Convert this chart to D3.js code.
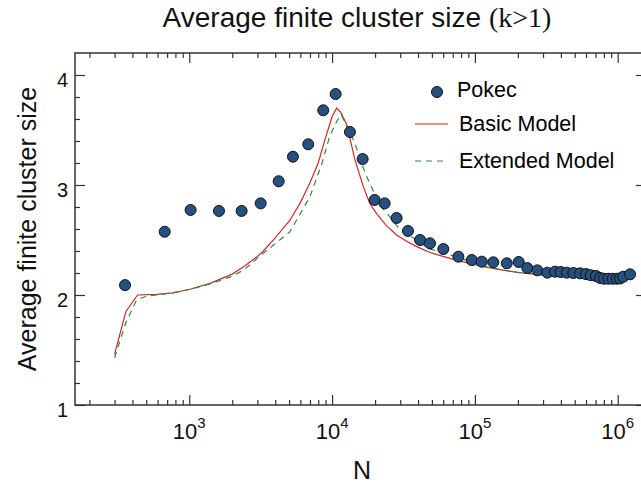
<!DOCTYPE html>
<html>
<head>
<meta charset="utf-8">
<script src="https://cdn.jsdelivr.net/npm/d3@7"></script>
<style>
  html, body { margin: 0; padding: 0; background: #fff; overflow: hidden; }
  svg { display: block; font-family: "Liberation Sans", Arial, Helvetica, sans-serif; }
</style>
</head>
<body>
<script>
// ---- data ----
const pokecN = [355, 673, 1022, 1615, 2326, 3162, 4227, 5321, 6810, 8670, 10590, 13340, 16370,
  19860, 23330, 28300, 34000, 41300, 48500, 60100, 76600, 95100, 111700, 134600, 167200, 202800,
  232900, 273600, 321400, 364000, 399000, 439500, 489000, 545000, 600000, 647000, 705000, 752000,
  802000, 860000, 922000, 984000, 1038000, 1094000, 1220000];
const pokecY = [2.09, 2.575, 2.773, 2.764, 2.764, 2.833, 3.034, 3.257, 3.37, 3.679, 3.827, 3.482, 3.236,
  2.864, 2.833, 2.70, 2.582, 2.50, 2.47, 2.418, 2.348, 2.318, 2.303, 2.297, 2.288, 2.30,
  2.245, 2.224, 2.203, 2.212, 2.209, 2.203, 2.20, 2.197, 2.19, 2.18, 2.173, 2.155,
  2.148, 2.148, 2.148, 2.148, 2.15, 2.166, 2.188];

const basicN = [300, 360, 435, 590, 770, 1000, 1400, 2000, 2400, 3000, 3300, 4000, 5070, 6000, 7000,
  8000, 8900, 10000, 10770, 11500, 12650, 14450, 16500, 18400, 20500, 24000, 28300, 33000, 39100,
  50000, 67000, 90000, 115000, 150000, 196000, 260000, 336000, 450000, 574000, 800000, 1066000];
const basicY = [1.46, 1.85, 2.0, 2.006, 2.02, 2.05, 2.106, 2.19, 2.257, 2.35, 2.40, 2.52, 2.68, 2.84, 3.02,
  3.2, 3.41, 3.62, 3.70, 3.66, 3.55, 3.23, 2.99, 2.83, 2.74, 2.63, 2.545, 2.49, 2.44,
  2.38, 2.333, 2.29, 2.257, 2.23, 2.206, 2.19, 2.175, 2.17, 2.167, 2.165, 2.167];

const extN = [300, 360, 428, 500, 590, 770, 1000, 1400, 2000, 2400, 3300, 5070, 7000, 8500, 9600, 10800,
  11600, 12500, 14450, 16000, 17500, 19500, 21500, 24300, 28800, 34000, 39100, 47000, 67000, 90000,
  115000, 150000, 196000, 260000, 336000, 450000, 574000, 800000, 1066000];
const extY = [1.43, 1.75, 1.955, 1.99, 2.0, 2.02, 2.05, 2.10, 2.17, 2.227, 2.379, 2.576, 2.894, 3.197, 3.44, 3.58,
  3.64, 3.55, 3.38, 3.2, 3.075, 2.94, 2.82, 2.74, 2.62, 2.55, 2.50, 2.424, 2.364, 2.31,
  2.262, 2.232, 2.208, 2.19, 2.175, 2.17, 2.167, 2.165, 2.167];

const yTickValues = [1, 2, 3, 4];
const xMajorExps = [3, 4, 5, 6];
const legendLabels = ["Pokec", "Basic Model", "Extended Model"];
const titleMain = "Average finite cluster size ";
const titleSuffix = "(k>1)";
const xTitle = "N";
const yTitle = "Average finite cluster size";

// ---- layout ----
const W = 641, H = 494;
const m = { left: 75, right: 646, top: 53, bottom: 405 };
const colDot = "#25507f", colRed = "#cc2a2a", colGreen = "#2a8c3f", colAxis = "#333";

const svg = d3.select("body").append("svg").attr("width", W).attr("height", H);

const x = d3.scaleLog().domain([Math.pow(10, 2.2), Math.pow(10, 6.198)]).range([m.left, m.right]);
const y = d3.scaleLinear().domain([1, 4.2]).range([m.bottom, m.top]);

const xMinor = [];
for (let e = 2; e <= 6; e++) for (let k = 2; k <= 9; k++) {
  const v = k * Math.pow(10, e);
  if (v >= x.domain()[0] && v <= x.domain()[1]) xMinor.push(v);
}
const xMajor = xMajorExps.map(e => Math.pow(10, e));
const yMinor = d3.range(1.2, 4.2, 0.2).filter(v => Math.abs(v - Math.round(v)) > 0.01);

const g = svg.append("g");

g.append("rect").attr("x", m.left).attr("y", m.top)
  .attr("width", m.right - m.left).attr("height", m.bottom - m.top)
  .attr("fill", "none").attr("stroke", colAxis).attr("stroke-width", 1.5);

const majLen = 10, minLen = 5;
function addAxis(gen, tr) {
  const a = g.append("g").attr("transform", tr).call(gen);
  a.select(".domain").remove();
  a.selectAll("line").attr("stroke", colAxis).attr("stroke-width", 1.2);
  a.selectAll("text").remove();
  return a;
}
addAxis(d3.axisBottom(x).tickValues(xMajor).tickSize(-majLen), `translate(0,${m.bottom})`);
addAxis(d3.axisBottom(x).tickValues(xMinor).tickSize(-minLen), `translate(0,${m.bottom})`);
addAxis(d3.axisTop(x).tickValues(xMajor).tickSize(-majLen), `translate(0,${m.top})`);
addAxis(d3.axisTop(x).tickValues(xMinor).tickSize(-minLen), `translate(0,${m.top})`);
addAxis(d3.axisLeft(y).tickValues(yTickValues).tickSize(-majLen), `translate(${m.left},0)`);
addAxis(d3.axisLeft(y).tickValues(yMinor).tickSize(-minLen), `translate(${m.left},0)`);
addAxis(d3.axisRight(y).tickValues(yTickValues).tickSize(-majLen), `translate(${m.right},0)`);
addAxis(d3.axisRight(y).tickValues(yMinor).tickSize(-minLen), `translate(${m.right},0)`);

g.selectAll(".ylab").data(yTickValues).enter().append("text")
  .attr("x", 68).attr("y", d => y(d) + 12)
  .attr("text-anchor", "end").attr("font-size", 20).attr("fill", "#111")
  .text(d => d);

const xl = g.selectAll(".xlab").data(xMajorExps).enter().append("text")
  .attr("x", d => x(Math.pow(10, d))).attr("y", 439)
  .attr("text-anchor", "middle").attr("font-size", 22).attr("fill", "#111");
xl.append("tspan").text("10");
xl.append("tspan").attr("font-size", 15).attr("dy", -11).text(d => d);

const line = d3.line().x(d => x(d[0])).y(d => y(d[1]));
g.append("path").datum(basicN.map((n, i) => [n, basicY[i]]))
  .attr("d", line).attr("fill", "none").attr("stroke", colRed).attr("stroke-width", 1.2);
g.append("path").datum(extN.map((n, i) => [n, extY[i]]))
  .attr("d", line).attr("fill", "none").attr("stroke", colGreen).attr("stroke-width", 1.2)
  .attr("stroke-dasharray", "6,5");

g.selectAll(".pt").data(pokecN.map((n, i) => [n, pokecY[i]])).enter().append("circle")
  .attr("cx", d => x(d[0])).attr("cy", d => y(d[1])).attr("r", 5.5)
  .attr("fill", colDot).attr("stroke", "#111").attr("stroke-width", 1);

const lg = g.append("g");
lg.append("circle").attr("cx", 437).attr("cy", 92).attr("r", 5.5)
  .attr("fill", colDot).attr("stroke", "#111").attr("stroke-width", 1);
lg.append("text").attr("x", 457).attr("y", 97).attr("font-size", 21.5).text(legendLabels[0]);
lg.append("line").attr("x1", 415).attr("x2", 448).attr("y1", 124).attr("y2", 124)
  .attr("stroke", colRed).attr("stroke-width", 1.2);
lg.append("text").attr("x", 459).attr("y", 131).attr("font-size", 21.5).text(legendLabels[1]);
lg.append("line").attr("x1", 415).attr("x2", 448).attr("y1", 161).attr("y2", 161)
  .attr("stroke", colGreen).attr("stroke-width", 1.2).attr("stroke-dasharray", "6,5");
lg.append("text").attr("x", 459).attr("y", 168).attr("font-size", 21.5).text(legendLabels[2]);

const t = svg.append("text").attr("x", 357).attr("y", 27).attr("text-anchor", "middle")
  .attr("font-size", 28).attr("fill", "#111");
t.append("tspan").text(titleMain);
t.append("tspan").attr("font-family", "'Liberation Serif', 'Times New Roman', serif").text(titleSuffix);

svg.append("text").attr("x", 362).attr("y", 479).attr("text-anchor", "middle")
  .attr("font-size", 25).attr("fill", "#111").text(xTitle);

svg.append("text").attr("transform", `translate(36,${(m.top + m.bottom) / 2}) rotate(-90)`)
  .attr("text-anchor", "middle").attr("font-size", 25).attr("fill", "#111").text(yTitle);
</script>
</body>
</html>
